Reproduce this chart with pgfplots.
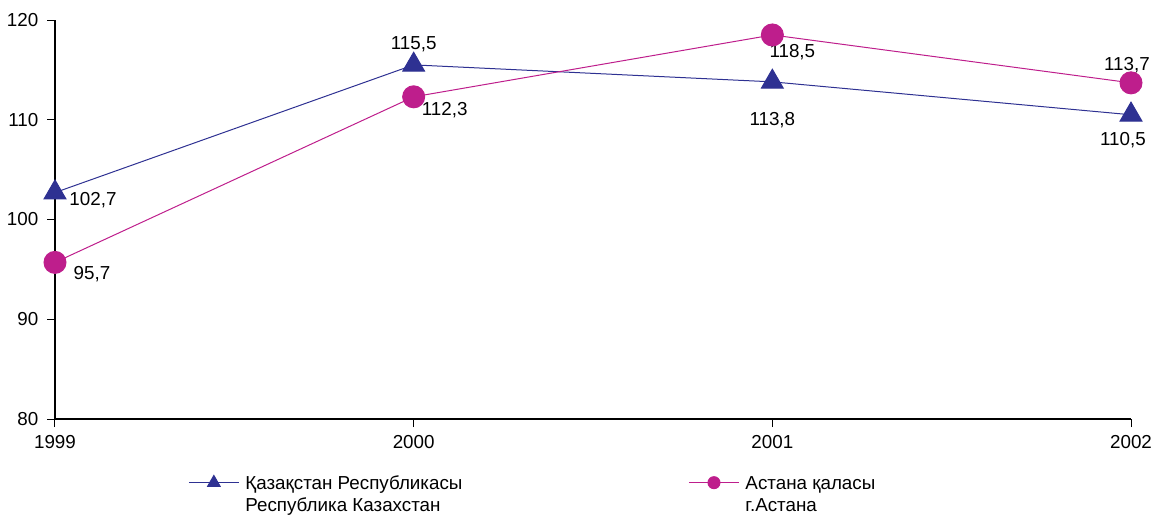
\documentclass[border=0pt]{standalone}
\usepackage{pgfplots}
\pgfplotsset{compat=1.18}
\usepackage{fontspec}
\setmainfont{Liberation Sans}
\definecolor{kzblue}{HTML}{2E3192}
\definecolor{astmag}{HTML}{BE1E8C}
\begin{document}
\fontsize{9.4}{11}\selectfont
\begin{tikzpicture}
\useasboundingbox (-27.5pt,-48.5pt) rectangle (549.5pt,209.5pt);
\begin{axis}[
  at={(0,0)}, anchor=south west,
  scale only axis, width=538pt, height=199.5pt,
  xmin=1999, xmax=2002, ymin=80, ymax=120,
  axis x line=bottom, axis y line=left,
  axis line style={black, line width=0.6pt, -},
  xtick={1999,2000,2001,2002},
  ytick={80,90,100,110,120},
  xticklabel style={/pgf/number format/1000 sep={}},
  /pgf/number format/assume math mode=true,
  tick style={black, line width=0.5pt},
  major tick length=4pt,
  xtick align=outside, ytick align=outside,
  tick label style={font=\fontsize{9.4}{11}\selectfont},
  xticklabel style={yshift=-1pt},
  yticklabel style={xshift=-1pt},
  legend columns=2,
  legend style={draw=none, fill=none, at={(0.118,-0.12)}, anchor=north west,
    font=\fontsize{9.4}{11}\selectfont, cells={anchor=base west, align=left},
    /tikz/every even column/.append style={column sep=111pt}},
  legend image code/.code={%
    \draw[#1, mark repeat=2, mark phase=2] plot coordinates {(0pt,14.2pt) (12.5pt,14.2pt) (25pt,14.2pt)};
    \path (26pt,14.2pt);},
  clip=false,
]
\addplot[color=kzblue, line width=0.5pt, mark=triangle*, mark size=6.3pt, mark options={fill=kzblue, draw=kzblue},
  legend image post style={mark size=3.6pt}]
  coordinates {(1999,102.7) (2000,115.5) (2001,113.8) (2002,110.5)};
\addlegendentry{Қазақстан Республикасы\\Республика Казахстан}
\addplot[color=astmag, line width=0.5pt, mark=*, mark size=5.5pt, mark options={fill=astmag, draw=astmag},
  legend image post style={mark size=3pt}]
  coordinates {(1999,95.7) (2000,112.3) (2001,118.5) (2002,113.7)};
\addlegendentry{Астана қаласы\\г.Астана}
\node[xshift=19pt, yshift=-4pt] at (axis cs:1999,102.7) {102,7};
\node[xshift=0pt, yshift=10.5pt] at (axis cs:2000,115.5) {115,5};
\node[xshift=0pt, yshift=-19pt] at (axis cs:2001,113.8) {113,8};
\node[xshift=-4pt, yshift=-12.5pt] at (axis cs:2002,110.5) {110,5};
\node[xshift=18.5pt, yshift=-6pt] at (axis cs:1999,95.7) {95,7};
\node[xshift=15.5pt, yshift=-6.5pt] at (axis cs:2000,112.3) {112,3};
\node[xshift=10pt, yshift=-8.5pt] at (axis cs:2001,118.5) {118,5};
\node[xshift=-2pt, yshift=9pt] at (axis cs:2002,113.7) {113,7};
\end{axis}
\end{tikzpicture}
\end{document}
